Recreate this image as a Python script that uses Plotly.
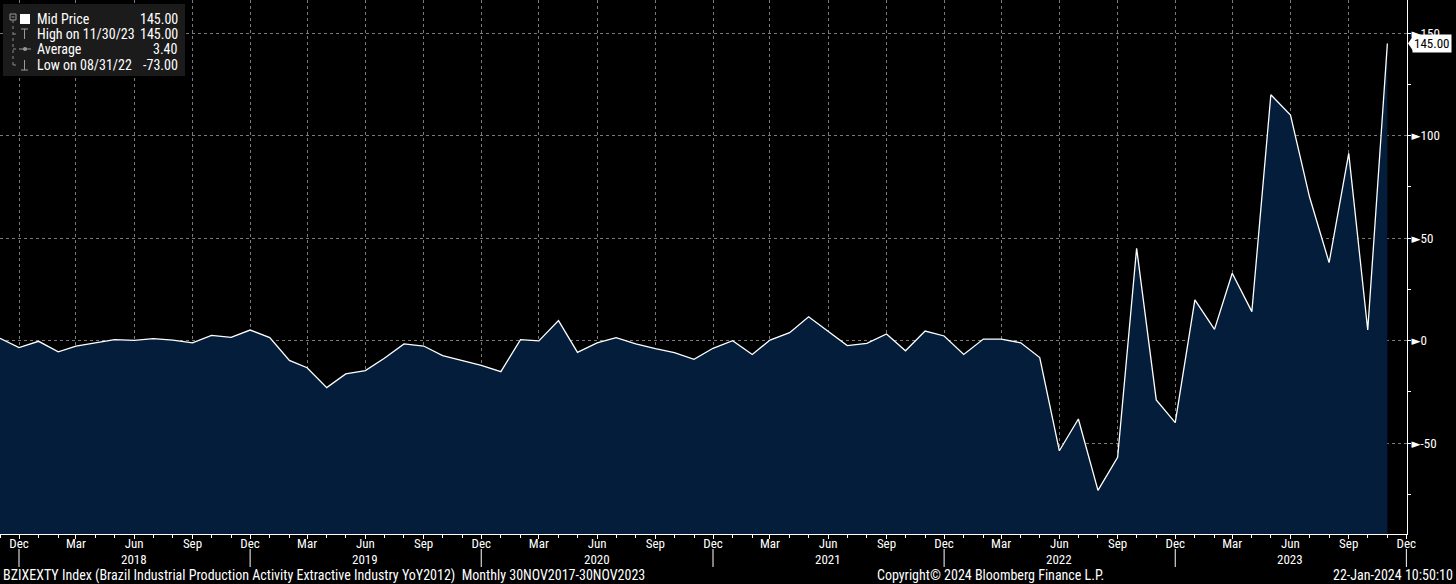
import pandas as pd
import plotly.graph_objects as go

# monthly YoY readings, 30NOV2017 - 30NOV2023
months = pd.date_range("2017-11-01", "2023-11-01", freq="MS")
yoy = [
    1.2, -3.4, -0.3, -5.4, -2.7, -1.1, 0.5, 0.2, 1.0, 0.3, -1.1, 2.6, 1.6,
    5.2, 1.5, -9.6, -13.2, -22.9, -16.2, -14.6, -8.6, -1.6, -2.6, -7.3, -9.6,
    -12.0, -15.1, 0.5, -0.1, 9.8, -5.7, -1.1, 1.5, -1.6, -3.9, -5.8, -9.1,
    -3.7, 0.0, -6.7, 0.3, 3.9, 11.7, 4.7, -2.4, -1.3, 3.3, -4.9, 4.7,
    2.3, -6.7, 0.8, 0.8, -1.0, -8.2, -53.7, -38.2, -73.0, -56.9, 45.1, -28.9,
    -40.0, 19.9, 5.5, 32.9, 14.2, 120.0, 110.1, 70.2, 38.1, 91.4, 5.2, 145.0,
]

# x axis labels (quarterly) and the year written under each June
tick_dates = pd.date_range("2017-12-01", "2023-12-01", freq="3MS")
tick_text = ["Dec", "Mar", "Jun", "Sep"] * 6 + ["Dec"]
year_dates = pd.date_range("2018-06-01", "2023-06-01", freq="12MS")
year_text = ["2018", "2019", "2020", "2021", "2022", "2023"]
year_breaks = pd.date_range("2017-12-01", "2023-12-01", freq="12MS")

y_ticks = [-50, 0, 50, 100, 150]
y_text = ["►-50", "►0", "►50", "►100", "►150"]

legend_rows = [
    ("Mid Price", "145.00"),
    ("High on 11/30/23", "145.00"),
    ("Average", "3.40"),
    ("Low on 08/31/22", "-73.00"),
]

FONT = "Liberation Sans Narrow, Arial Narrow, Roboto Condensed, DejaVu Sans Condensed, Liberation Sans, sans-serif"
FILL = "#031d3a"
GRID = "#7a7a7a"

W, H = 1456, 584
ML, MR, MT, MB = 0, 49, 0, 50
PW, PH = W - ML - MR, H - MT - MB


def px(x):
    return (x - ML) / PW


def py(y):
    return 1 - (y - MT) / PH


fig = go.Figure()
# invisible floor so the area is filled down to the bottom of the frame
fig.add_trace(go.Scatter(x=months, y=[-300] * len(months), mode="lines",
                         line=dict(width=0), hoverinfo="skip", showlegend=False))
fig.add_trace(go.Scatter(x=months, y=yoy, mode="lines", fill="tonexty",
                         fillcolor=FILL, line=dict(color="white", width=1.3),
                         showlegend=False))

shapes = []
# long ticks between the year labels
for d in year_breaks:
    shapes.append(dict(type="line", xref="x", yref="paper", x0=d, x1=d,
                       y0=py(549), y1=py(567), line=dict(color="white", width=1)))

# legend panel
shapes.append(dict(type="rect", xref="paper", yref="paper", x0=px(3), x1=px(185),
                   y0=py(76), y1=py(4), fillcolor="#1b1b1b", line=dict(width=0), layer="above"))
shapes.append(dict(type="rect", xref="paper", yref="paper", x0=px(10), x1=px(16),
                   y0=py(20), y1=py(14), line=dict(color="#9a9a9a", width=1), layer="above"))
shapes.append(dict(type="line", xref="paper", yref="paper", x0=px(11.5), x1=px(14.5),
                   y0=py(17), y1=py(17), line=dict(color="#9a9a9a", width=1), layer="above"))
shapes.append(dict(type="line", xref="paper", yref="paper", x0=px(13), x1=px(13),
                   y0=py(20), y1=py(66), line=dict(color="#8a8a8a", width=1, dash="dot"), layer="above"))
for ry in [34, 49, 65]:
    shapes.append(dict(type="line", xref="paper", yref="paper", x0=px(13), x1=px(19),
                       y0=py(ry), y1=py(ry), line=dict(color="#8a8a8a", width=1, dash="dot"), layer="above"))
shapes.append(dict(type="rect", xref="paper", yref="paper", x0=px(20), x1=px(30),
                   y0=py(24), y1=py(14), fillcolor="white", line=dict(width=0), layer="above"))
# high marker (T)
shapes.append(dict(type="line", xref="paper", yref="paper", x0=px(21), x1=px(28),
                   y0=py(29), y1=py(29), line=dict(color="#9a9a9a", width=1), layer="above"))
shapes.append(dict(type="line", xref="paper", yref="paper", x0=px(24.5), x1=px(24.5),
                   y0=py(29), y1=py(39), line=dict(color="#9a9a9a", width=1), layer="above"))
# average marker
shapes.append(dict(type="line", xref="paper", yref="paper", x0=px(19), x1=px(31),
                   y0=py(49), y1=py(49), line=dict(color="#9a9a9a", width=1), layer="above"))
shapes.append(dict(type="circle", xref="paper", yref="paper", x0=px(23), x1=px(27),
                   y0=py(51), y1=py(47), fillcolor="#9a9a9a", line=dict(width=0), layer="above"))
# low marker (inverted T)
shapes.append(dict(type="line", xref="paper", yref="paper", x0=px(24.5), x1=px(24.5),
                   y0=py(60), y1=py(70), line=dict(color="#9a9a9a", width=1), layer="above"))
shapes.append(dict(type="line", xref="paper", yref="paper", x0=px(21), x1=px(28),
                   y0=py(70), y1=py(70), line=dict(color="#9a9a9a", width=1), layer="above"))
# pointer of the last value tag
shapes.append(dict(type="path", xref="paper", yref="y",
                   path=f"M {px(1408)},{yoy[-1]} L {px(1413)},{yoy[-1] + 3.6} L {px(1413)},{yoy[-1] - 3.6} Z",
                   fillcolor="white", line=dict(width=0), layer="above"))

annotations = []
for i, (lab, val) in enumerate(legend_rows):
    ry = [19, 34, 49, 65][i]
    annotations.append(dict(xref="paper", yref="paper", x=px(35), y=py(ry), text=lab,
                            showarrow=False, xanchor="left", yanchor="middle",
                            font=dict(family=FONT, size=14, color="white")))
    annotations.append(dict(xref="paper", yref="paper", x=px(180), y=py(ry), text=val,
                            showarrow=False, xanchor="right", yanchor="middle",
                            font=dict(family=FONT, size=14, color="white")))

for d, t in zip(year_dates, year_text):
    annotations.append(dict(xref="x", yref="paper", x=d, y=py(559), text=t,
                            showarrow=False, xanchor="center", yanchor="middle",
                            font=dict(family=FONT, size=13, color="white")))

annotations.append(dict(xref="paper", yref="y", x=px(1412), y=yoy[-1], text=f"{yoy[-1]:.2f}",
                        showarrow=False, xanchor="left", yanchor="middle", bgcolor="white",
                        borderpad=1, font=dict(family=FONT, size=13, color="black")))

foot_y = py(575)
annotations.append(dict(xref="paper", yref="paper", x=px(1), y=foot_y,
                        text="BZIXEXTY Index (Brazil Industrial Production Activity Extractive Industry YoY2012)  Monthly 30NOV2017-30NOV2023",
                        showarrow=False, xanchor="left", yanchor="middle",
                        font=dict(family=FONT, size=14, color="white")))
annotations.append(dict(xref="paper", yref="paper", x=px(991), y=foot_y,
                        text="Copyright© 2024 Bloomberg Finance L.P.",
                        showarrow=False, xanchor="center", yanchor="middle",
                        font=dict(family=FONT, size=14, color="white")))
annotations.append(dict(xref="paper", yref="paper", x=px(1455), y=foot_y,
                        text="22-Jan-2024 10:50:10",
                        showarrow=False, xanchor="right", yanchor="middle",
                        font=dict(family=FONT, size=14, color="white")))

fig.update_layout(
    width=W, height=H,
    margin=dict(l=ML, r=MR, t=MT, b=MB),
    paper_bgcolor="black", plot_bgcolor="black",
    shapes=shapes, annotations=annotations,
    font=dict(family=FONT, size=13, color="white"),
    xaxis=dict(
        range=["2017-11-01", "2023-12-02"],
        tickmode="array", tickvals=tick_dates, ticktext=tick_text,
        ticks="outside", ticklen=4, tickcolor="white",
        ticklabelstandoff=-7,
        showline=True, linecolor="white", linewidth=1,
        showgrid=True, gridcolor=GRID, griddash="dot", gridwidth=1,
        minor=dict(dtick="M1", tick0="2017-11-01", ticks="outside", ticklen=3,
                   tickcolor="white", showgrid=False),
        tickfont=dict(family=FONT, size=13, color="white"),
        zeroline=False, fixedrange=True,
    ),
    yaxis=dict(
        side="right", range=[-94.3, 166.2],
        tickmode="array", tickvals=y_ticks, ticktext=y_text,
        ticks="outside", ticklen=3, tickcolor="white",
        ticklabelstandoff=-2,
        minor=dict(tickmode="linear", tick0=-75, dtick=25, ticks="outside", ticklen=3,
                   tickcolor="white", showgrid=False),
        showline=True, linecolor="white", linewidth=1,
        showgrid=True, gridcolor=GRID, griddash="dot", gridwidth=1,
        tickfont=dict(family=FONT, size=13, color="white"),
        zeroline=False, fixedrange=True,
    ),
)

# page default margin would push the chart 8px off the window
fig.write_html("out.html", config={"displayModeBar": False},
               post_script="document.body.style.margin='0';")
